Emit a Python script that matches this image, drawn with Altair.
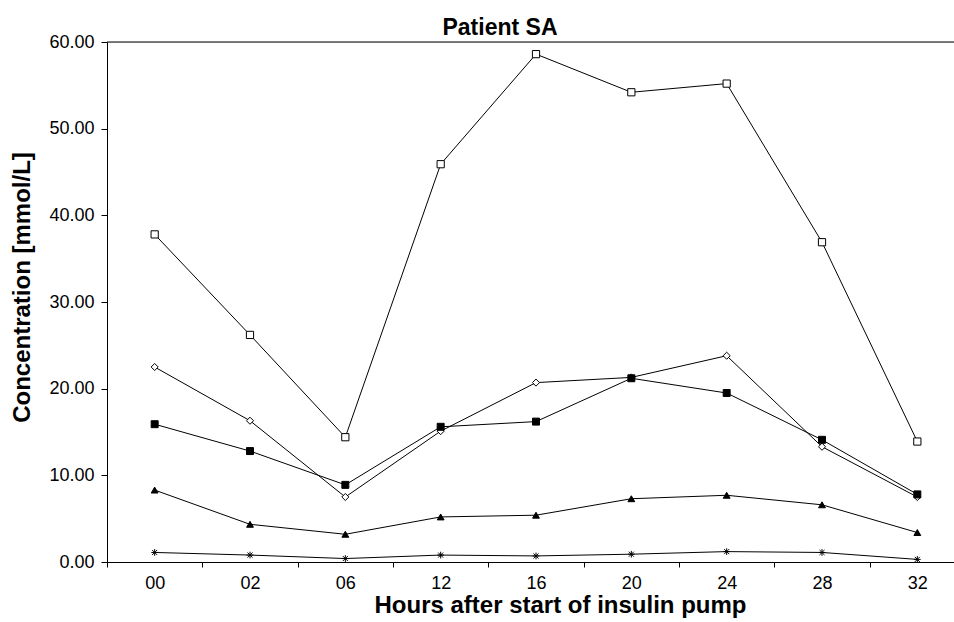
import altair as alt
import pandas as pd

hours = ["00", "02", "06", "12", "16", "20", "24", "28", "32"]
series_names = ["open_square", "open_diamond", "filled_square", "filled_triangle", "asterisk"]
open_square = [37.8, 26.2, 14.4, 45.9, 58.6, 54.2, 55.2, 36.9, 13.9]
open_diamond = [22.5, 16.3, 7.5, 15.1, 20.7, 21.3, 23.8, 13.3, 7.5]
filled_square = [15.9, 12.8, 8.9, 15.6, 16.2, 21.2, 19.5, 14.1, 7.8]
filled_triangle = [8.3, 4.35, 3.2, 5.2, 5.4, 7.3, 7.7, 6.6, 3.4]
asterisk = [1.1, 0.8, 0.4, 0.8, 0.7, 0.9, 1.2, 1.1, 0.3]
chart_title = ["Patient SA"]

values = [open_square, open_diamond, filled_square, filled_triangle, asterisk]
rows = []
for name, vals in zip(series_names, values):
    for h, v in zip(hours, vals):
        rows.append({"hour": h, "value": v, "series": name})
df = pd.DataFrame(rows)

FONT = "Liberation Sans"
W, H = 847, 520

x_enc = alt.X(
    "hour:O",
    sort=hours,
    scale=alt.Scale(type="band", paddingInner=0, paddingOuter=0, range=[0, 858]),
    axis=alt.Axis(
        title="Hours after start of insulin pump",
        labelAngle=0,
        labelFontSize=18,
        labelFont=FONT,
        labelColor="black",
        labelPadding=7,
        tickBand="extent",
        tickSize=5,
        tickColor="black",
        domainColor="black",
        titleFont=FONT,
        titleFontSize=24,
        titleFontWeight="bold",
        titleColor="black",
        titleX=453,
        titleY=50,
        titleAlign="center",
        titleBaseline="alphabetic",
        grid=False,
    ),
)
y_enc = alt.Y(
    "value:Q",
    scale=alt.Scale(domain=[0, 60], nice=False),
    axis=alt.Axis(
        title="Concentration [mmol/L]",
        values=[0, 10, 20, 30, 40, 50, 60],
        format=".2f",
        labelFontSize=18,
        labelFont=FONT,
        labelColor="black",
        labelPadding=7,
        tickSize=6,
        tickColor="black",
        domainColor="black",
        titleFont=FONT,
        titleFontSize=24,
        titleFontWeight="bold",
        titleColor="black",
        titleAngle=270,
        titleX=-85,
        titleY=245,
        titleAlign="center",
        titleBaseline="middle",
        grid=False,
    ),
)

base = alt.Chart(df)

lines = base.mark_line(color="black", strokeWidth=1).encode(
    x=x_enc, y=y_enc, detail="series:N"
)

asterisk_path = "M-1,0L1,0M0,-1L0,1M-0.75,-0.75L0.75,0.75M-0.75,0.75L0.75,-0.75"

points = base.mark_point(stroke="black", strokeWidth=1, opacity=1, fillOpacity=1).encode(
    x=x_enc,
    y=y_enc,
    shape=alt.Shape(
        "series:N",
        scale=alt.Scale(
            domain=series_names,
            range=["square", "diamond", "square", "triangle-up", asterisk_path],
        ),
        legend=None,
    ),
    fill=alt.Fill(
        "series:N",
        scale=alt.Scale(domain=series_names, range=["white", "white", "black", "black", "black"]),
        legend=None,
    ),
    size=alt.Size(
        "series:N",
        scale=alt.Scale(domain=series_names, range=[52, 45, 56, 72, 42]),
        legend=None,
    ),
)

top_rule = alt.Chart(pd.DataFrame({"y": [60]})).mark_rule(color="black", strokeWidth=1).encode(
    y=alt.Y("y:Q", scale=alt.Scale(domain=[0, 60], nice=False)),
    x=alt.value(0),
    x2=alt.value(860),
)

title_text = alt.Chart(pd.DataFrame({"t": chart_title})).mark_text(
    font=FONT, fontSize=23, fontWeight="bold", color="black",
    align="center", baseline="alphabetic",
).encode(
    text="t:N",
    x=alt.value(393),
    y=alt.value(-7),
)

chart = (
    alt.layer(lines, points, top_rule, title_text)
    .properties(
        width=W,
        height=H,
        autosize=alt.AutoSizeParams(type="none"),
        padding={"left": 107, "top": 42, "right": 0, "bottom": 60},
    )
    .configure_view(stroke=None)
    .configure(background="white")
)

chart.save("out.html", embed_options={"renderer": "svg", "actions": False})
